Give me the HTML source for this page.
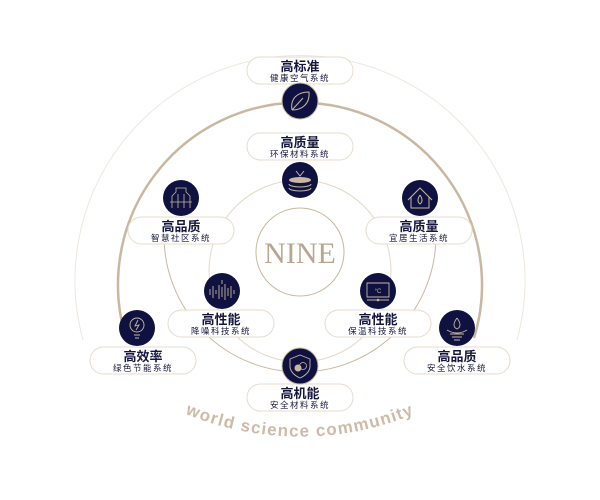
<!DOCTYPE html>
<html><head><meta charset="utf-8"><style>
html,body{margin:0;padding:0;background:#fff;width:600px;height:500px;overflow:hidden}
svg{display:block}
.t{font-family:"Liberation Sans","Noto Sans CJK SC",sans-serif;font-weight:bold;font-size:13px;fill:#16173f;text-anchor:middle}
.s{font-family:"Liberation Sans","Noto Sans CJK SC",sans-serif;font-size:8.5px;fill:#16173f;text-anchor:middle;letter-spacing:1.5px}
.box{fill:#fff;stroke:#e6dccf;stroke-width:1}
.ic{fill:#0f1240}
.ln{fill:none;stroke:#c9b79f;stroke-width:1}
</style></head><body>
<svg width="600" height="500" viewBox="0 0 600 500">
<defs><path id="arc" d="M168,406 A300,300 0 0 0 432,406"/></defs>
<path d="M83,340 A225,225 0 1 1 517,340" fill="none" stroke="#eee7de" stroke-width="1"/>
<path d="M126,338 A182,182 0 1 1 474,338" fill="none" stroke="#c9b79f" stroke-width="2.5"/>
<path d="M164,236 A136,136 0 1 0 436,236" class="ln"/>
<circle cx="300" cy="271" r="91" fill="none" stroke="#e3d8ca" stroke-width="1"/>
<circle cx="300" cy="252" r="44" fill="#fff" stroke="#c9b79f" stroke-width="1"/>
<text x="300" y="263" text-anchor="middle" font-family="'Liberation Serif',serif" font-size="30" fill="#b9a58f">NINE</text>

<g>
<rect class="box" x="247" y="57" width="106" height="27" rx="13.5"/><text class="t" x="300" y="71">高标准</text><text class="s" x="300" y="81">健康空气系统</text>
<circle class="ic" cx="300" cy="101" r="18" stroke="#c9b79f" stroke-width="1"/>
<path d="M292,110 C290,98 298,92 309,92 C310,104 302,110 292,110 M292,110 L303,98" fill="none" stroke="#c9b79f" stroke-width="1"/>

<rect class="box" x="247" y="133" width="106" height="27" rx="13.5"/><text class="t" x="300" y="147">高质量</text><text class="s" x="300" y="157">环保材料系统</text>
<circle class="ic" cx="300" cy="180" r="18"/>
<ellipse cx="300" cy="180" rx="11" ry="3" fill="#c9b79f"/><path d="M289,184 A11,3 0 0 0 311,184 M289,188 A11,3 0 0 0 311,188 M296,171 L300,176 L304,171" fill="none" stroke="#c9b79f" stroke-width="1"/>

<rect class="box" x="128" y="217" width="106" height="27" rx="13.5"/><text class="t" x="181" y="231">高品质</text><text class="s" x="181" y="241">智慧社区系统</text>
<circle class="ic" cx="181" cy="198" r="18"/>
<path d="M172,208 L172,196 L176,192 L176,188 L186,188 L186,192 L190,196 L190,208 M178,208 L178,194 M184,208 L184,194 M170,202 L192,202" fill="none" stroke="#c9b79f" stroke-width="0.8"/>

<rect class="box" x="366" y="217" width="106" height="27" rx="13.5"/><text class="t" x="419" y="231">高质量</text><text class="s" x="419" y="241">宜居生活系统</text>
<circle class="ic" cx="420" cy="198" r="18"/>
<path d="M408,200 L420,188 L432,200 M411,197 L411,208 L429,208 L429,197 M420,195 Q416,201 420,204 Q424,201 420,195" fill="none" stroke="#c9b79f" stroke-width="1"/>

<rect class="box" x="168" y="310" width="106" height="27" rx="13.5"/><text class="t" x="221" y="324">高性能</text><text class="s" x="221" y="334">降噪科技系统</text>
<circle class="ic" cx="222" cy="291" r="18"/>
<path d="M210,295 v-6 M213,298 v-12 M216,294 v-4 M219,299 v-14 M222,297 v-10 M225,300 v-16 M228,296 v-8 M231,298 v-12 M234,294 v-4 M222,280 v4" fill="none" stroke="#c9b79f" stroke-width="0.9"/>

<rect class="box" x="325" y="310" width="106" height="27" rx="13.5"/><text class="t" x="378" y="324">高性能</text><text class="s" x="378" y="334">保温科技系统</text>
<circle class="ic" cx="378" cy="291" r="18"/>
<path d="M367,283 h22 v14 h-22 z M367,300 h22" fill="none" stroke="#c9b79f" stroke-width="0.9"/><circle cx="378" cy="300" r="1.3" fill="#c9b79f"/><text x="378" y="293" font-size="6" fill="#c9b79f" text-anchor="middle" font-family="Liberation Sans,sans-serif">°C</text>

<rect class="box" x="90" y="347" width="106" height="27" rx="13.5"/><text class="t" x="143" y="361">高效率</text><text class="s" x="143" y="371">绿色节能系统</text>
<circle class="ic" cx="137" cy="328" r="18"/>
<circle cx="137" cy="325" r="7" fill="none" stroke="#c9b79f" stroke-width="0.9"/><path d="M138,320 L135,326 L139,325 L136,330 M134,335 h6 M135,338 h4" fill="none" stroke="#c9b79f" stroke-width="0.9"/>

<rect class="box" x="404" y="347" width="106" height="27" rx="13.5"/><text class="t" x="457" y="361">高品质</text><text class="s" x="457" y="371">安全饮水系统</text>
<circle class="ic" cx="457" cy="328" r="18"/>
<path d="M457,318 Q451,326 457,329 Q463,326 457,318 M447,330 Q457,336 467,330 M450,334 h14 M452,337 h10 M454,340 h6" fill="none" stroke="#c9b79f" stroke-width="0.9"/>

<rect class="box" x="247" y="384" width="106" height="27" rx="13.5"/><text class="t" x="300" y="398">高机能</text><text class="s" x="300" y="408">安全材料系统</text>
<circle class="ic" cx="300" cy="366" r="18" stroke="#c9b79f" stroke-width="1"/>
<path d="M300,355 L310,359 L310,367 Q309,374 300,378 Q291,374 290,367 L290,359 Z" fill="none" stroke="#c9b79f" stroke-width="0.9"/><circle cx="298" cy="368" r="3.5" fill="#c9b79f"/><circle cx="303" cy="366" r="3.5" fill="none" stroke="#c9b79f" stroke-width="0.8"/>
</g>

<text font-family="'Liberation Sans',sans-serif" font-size="17" fill="#cdbba8" letter-spacing="1.2" font-weight="bold"><textPath href="#arc" startOffset="50%" text-anchor="middle">world science community</textPath></text>
</svg>
</body></html>
